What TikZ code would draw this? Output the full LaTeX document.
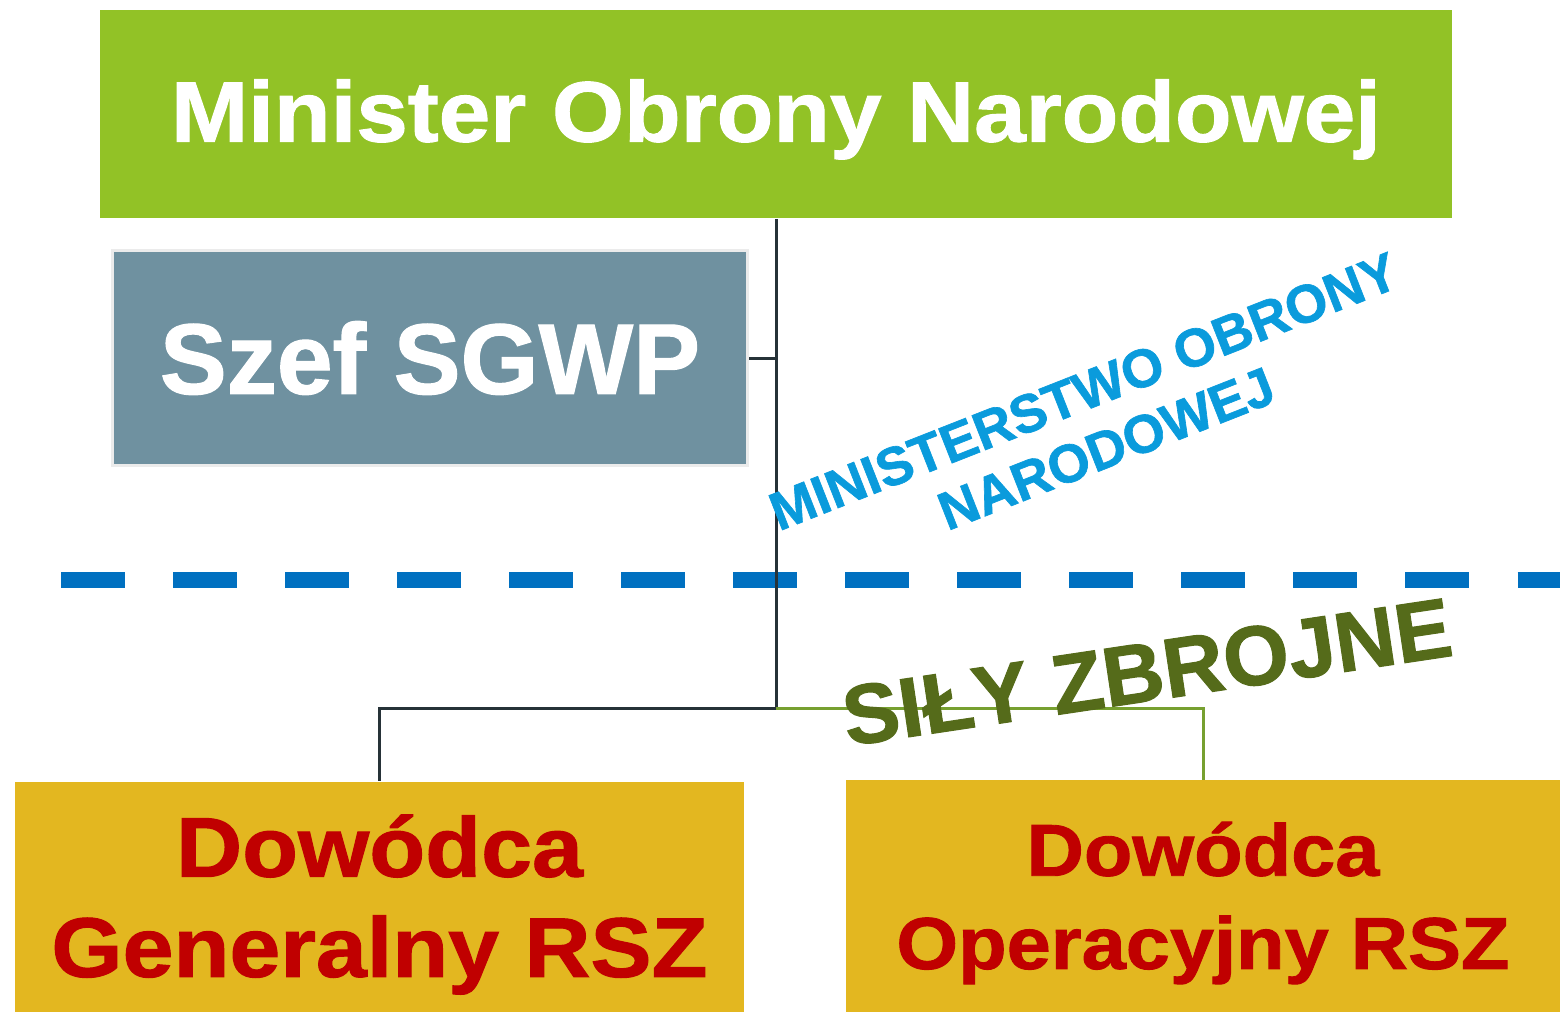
\documentclass[tikz,border=0pt]{standalone}
\usepackage{fontspec}
\setmainfont{Liberation Sans}
\newfontface\heavy{Liberation Sans Bold}[FakeBold=1.2, FakeStretch=1.08]
\newfontface\heavyn{Liberation Sans Bold}[FakeBold=1.2]
\definecolor{mongreen}{RGB}{146,194,38}
\definecolor{szefblue}{RGB}{111,145,160}
\definecolor{dowyellow}{RGB}{227,183,32}
\definecolor{dowred}{RGB}{192,0,0}
\definecolor{linedark}{RGB}{38,50,56}
\definecolor{linegreen}{RGB}{119,160,48}
\definecolor{dashblue}{RGB}{0,112,192}
\definecolor{mintext}{RGB}{10,155,220}
\definecolor{silygreen}{RGB}{85,107,26}
\begin{document}
\begin{tikzpicture}
[
    x=0.01cm, y=-0.01cm,
    box/.style={rectangle, inner sep=0pt, align=center},
    dowbox/.style={box, fill=dowyellow, text=dowred, minimum height=2.45cm},
    link/.style={line width=0.85pt},
]
\useasboundingbox (0,0) rectangle (1560,1011);
% separator
\coordinate (dashL) at (61,580);
\coordinate (dashR) at (1560,580);
\draw[dashblue, line width=4.55pt, dash pattern=on 18.2pt off 13.66pt] (dashL) -- (dashR);
\node[box, fill=mongreen, text=white, minimum width=13.52cm, minimum height=2.08cm, text depth=2pt,
    font=\heavy\fontsize{24.4}{29}\selectfont] (mon) at (776,114) {Minister Obrony Narodowej};
\node[box, fill=szefblue, draw=black!8, line width=0.85pt, text=white, minimum width=6.35cm, minimum height=2.14cm,
    font=\heavyn\fontsize{28.5}{34}\selectfont] (szef) at (430,358) {Szef SGWP};
\node[dowbox, minimum width=7.29cm, font=\heavy\fontsize{24.1}{28.5}\selectfont] (dgen) at (379.5,904.5) {Dowódca\\Generalny RSZ};
\node[dowbox, minimum width=7.14cm, font=\heavy\fontsize{20.9}{26.5}\selectfont] (dop) at (1203,903) {Dowódca\\Operacyjny RSZ};
% connectors
\coordinate (fork) at (776,708);
\draw[link, linedark] (mon.south) -- (fork);
\draw[link, linedark] (szef.east) -- (szef.east -| fork);
\draw[link, linedark] (fork) -| (dgen.north);
\draw[link, linegreen] (fork) -| (dop.north);
% labels
\node[rotate=21.5, text=mintext, align=center, font=\heavyn\fontsize{15.3}{17.5}\selectfont] (mnd) at (1095,420) {MINISTERSTWO OBRONY\\NARODOWEJ};
\node[rotate=8.5, text=silygreen, font=\heavyn\fontsize{24}{28}\selectfont] (sz) at (1147,672) {SIŁY ZBROJNE};
\end{tikzpicture}
\end{document}
